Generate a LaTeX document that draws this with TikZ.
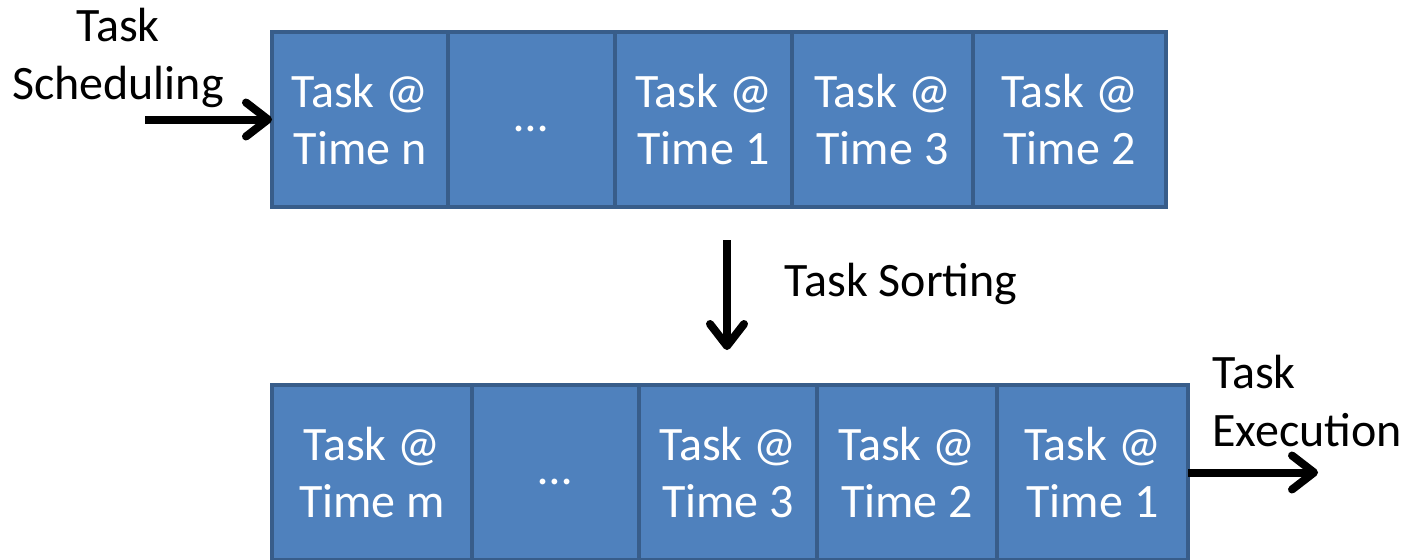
\documentclass[tikz,border=0pt]{standalone}
\usepackage{fontspec}
\setmainfont{Carlito}
\usepackage{tikz}
\usetikzlibrary{arrows.meta}
\usetikzlibrary{positioning}
\definecolor{cellfill}{HTML}{4F81BD}
\definecolor{cellline}{HTML}{385D8A}

\begin{document}
\begin{tikzpicture}[x=1pt, y=1pt]
  \tikzstyle{cell}=[rectangle, draw=cellline, fill=cellfill, line width=2pt, outer sep=0pt, inner sep=0pt, minimum height=87.5pt, text=white, align=center, font=\fontsize{24}{28.7}\selectfont, node distance=0pt]
  \tikzstyle{dots}=[text height=12.4pt, text depth=0pt]
  \tikzstyle{connect}=[-{Straight Barb[length=11pt, width=17pt, round]}, line width=4pt]
  \tikzstyle{txt}=[inner sep=0pt, align=center, font=\fontsize{24}{28.7}\selectfont]
  \useasboundingbox (0,0) rectangle (706.5,279.5);
    % queue as tasks come in
    \node[cell, minimum width=88pt] (inn) at (180,219.75) {Task @\\Time n};
    \node[cell, dots, minimum width=83.5pt] (indots) [right=of inn] {…};
    \node[cell, minimum width=88.5pt] (inone) [right=of indots] {Task @\\Time 1};
    \node[cell, minimum width=90.5pt] (inthree) [right=of inone] {Task @\\Time 3};
    \node[cell, minimum width=96.5pt] (intwo) [right=of inthree] {Task @\\Time 2};
    % queue after sorting
    \node[cell, minimum width=100pt] (outm) at (186,43.25) {Task @\\Time m};
    \node[cell, dots, minimum width=83.5pt] (outdots) [right=of outm] {…};
    \node[cell, minimum width=89pt] (outthree) [right=of outdots] {Task @\\Time 3};
    \node[cell, minimum width=90pt] (outtwo) [right=of outthree] {Task @\\Time 2};
    \node[cell, minimum width=95.5pt] (outone) [right=of outtwo] {Task @\\Time 1};
    % labels
    \node[txt] (sched) at (59,250.5) {Task\\Scheduling};
    \node[txt] (sort) at (450.5,137.5) {Task Sorting};
    \node[txt, align=left, anchor=west] (exec) at (606,79) {Task\\Execution};
    \coordinate (schedin) at (72.5,219.75);
    \coordinate (sorttop) at (363.5,159.5);
    \coordinate (sortbot) at (363.5,104.5);
    \coordinate (execout) at (659,43.25);
    \path (schedin) edge [connect] (inn)
          (sorttop) edge [connect] (sortbot)
          (outone) edge [connect] (execout);
\end{tikzpicture}
\end{document}
